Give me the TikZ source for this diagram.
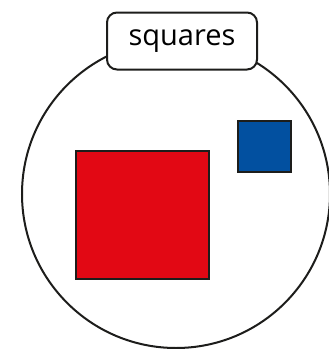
\documentclass[tikz,border=0pt]{standalone}
\usepackage{fontspec}
\setsansfont{Open Sans}
\usetikzlibrary{calc}
\definecolor{ink}{RGB}{29,29,27}
\definecolor{sqred}{RGB}{226,8,20}
\definecolor{sqblue}{RGB}{2,80,160}
\tikzset{
	ring/.style={draw=ink,circle,line width=2pt,inner sep=0pt},
	tag/.style={draw=ink,fill=white,rounded corners=10pt,line width=2pt,font=\sffamily\fontsize{29}{34}\selectfont},
	sq/.style={draw=ink,line width=2pt,inner sep=0pt}
}
\begin{document}
\begin{tikzpicture}[x=1pt,y=-1pt]
\useasboundingbox (0,0) rectangle (329,349);
\node[ring,minimum size=308pt] (set) at (176,194) {};
\node[sq,fill=sqred,minimum width=133pt,minimum height=128pt] (big) at (142.5,215) {};
\node[sq,fill=sqblue,minimum width=53pt,minimum height=51pt] (small) at (264.5,146.5) {};
\node[tag,minimum width=150pt,minimum height=57pt] (name) at (182,41) {squares};
\end{tikzpicture}
\end{document}
